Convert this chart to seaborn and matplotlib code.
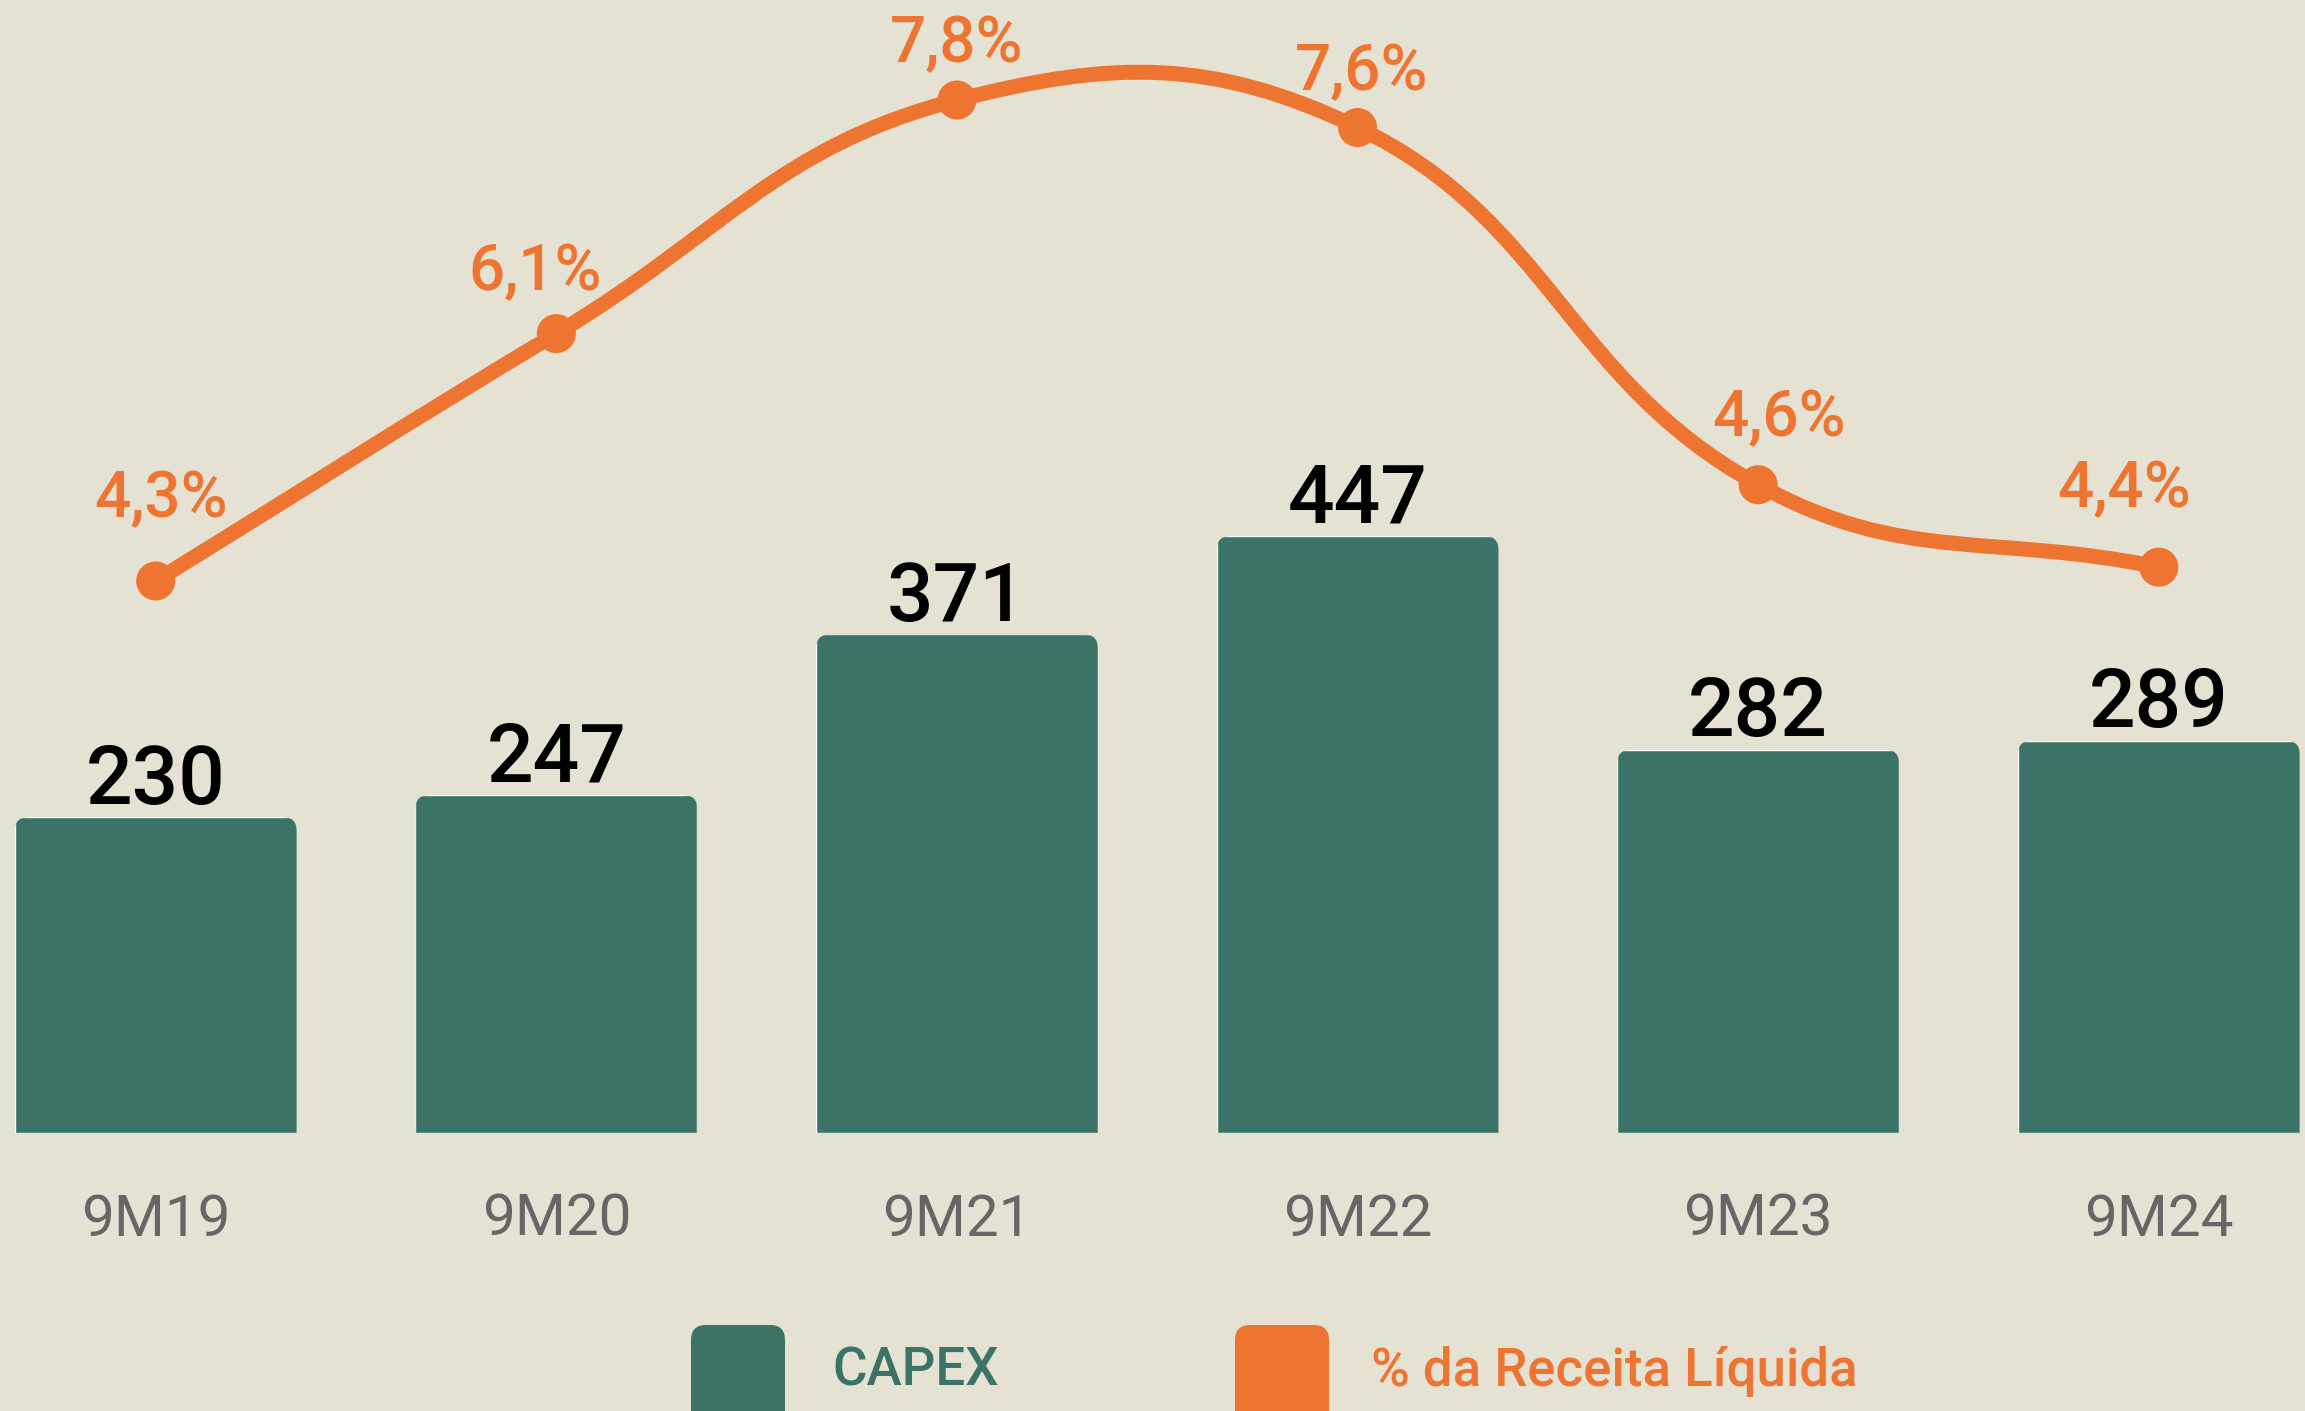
import numpy as np
import pandas as pd
import matplotlib
matplotlib.use("Agg")
import matplotlib.pyplot as plt
import seaborn as sns
from matplotlib.patches import FancyBboxPatch, PathPatch
from matplotlib.path import Path

# data
periods = ['9M19', '9M20', '9M21', '9M22', '9M23', '9M24']
capex = [230, 247, 371, 447, 282, 289]
pct = [4.3, 6.1, 7.8, 7.6, 5.0, 4.4]          # where the dots sit in the picture
pct_labels = ['4,3%', '6,1%', '7,8%', '7,6%', '4,6%', '4,4%']

# where each % label sits relative to its dot (points)
label_dx = [4, -15, 0, 3, 15, -25]
label_dy = [46, 31, 27, 27, 35, 43]

BG = '#E5E2D3'
GREEN = '#3B7366'
ORANGE = '#EE7531'
GREY = '#666666'

sns.set_theme(style='white')
plt.rcParams['font.family'] = ['Roboto', 'DejaVu Sans']

W, H = 2305, 1411
fig = plt.figure(figsize=(W / 100, H / 100), dpi=100, facecolor=BG)
ax = fig.add_axes([0, 278 / H, 1, 1133 / H])
ax.set_facecolor('none')

df = pd.DataFrame({'period': periods, 'capex': capex, 'pct': pct})

# ---- bars ----
sns.barplot(data=df, x='period', y='capex', color=GREEN, saturation=1,
            width=0.704, ax=ax)
ylo, yhi = -14, 861
ax.set_ylim(ylo, yhi)
ax.set_xlim(-0.3887, 5.365)

# bars start at the bottom of the axis, tops rounded
ax_h_px = 1133
ax_w_px = W
xlo, xhi = ax.get_xlim()
aspect = ((yhi - ylo) / ax_h_px) / ((xhi - xlo) / ax_w_px)
r = 14 * (xhi - xlo) / ax_w_px
for p in ax.patches:
    top = p.get_y() + p.get_height()
    p.set_y(ylo)
    p.set_height(top - ylo)
    clip = FancyBboxPatch((p.get_x(), ylo - 60), p.get_width(), top - ylo + 60,
                          boxstyle=f'round,pad=0,rounding_size={r}',
                          mutation_aspect=aspect, transform=ax.transData)
    p.set_clip_path(clip)

for i, v in enumerate(capex):
    ax.annotate(str(v), (i, v), xytext=(0, 9.6), textcoords='offset points',
                ha='center', va='baseline', fontsize=59, fontweight='medium',
                color='black')

ax.set_xticks(range(len(periods)), periods)
ax.tick_params(axis='x', length=0, pad=74, labelsize=42, labelcolor=GREY)
for t in ax.get_xticklabels():
    t.set_va('baseline')
    t.set_fontweight('normal')
ax.set_yticks([])
ax.set_xlabel('')
ax.set_ylabel('')
sns.despine(ax=ax, left=True, bottom=True)

# ---- % line ----
ax2 = ax.twinx()
ax2.set_ylim(0.282, 8.528)
ax2.set_xlim(xlo, xhi)

xs = np.arange(len(pct))
pts = ax2.transData.transform(np.column_stack([xs, pct]))
tension = 0.42
n = len(pts)
cps = []
for i in range(n):
    p0 = pts[max(i - 1, 0)]
    p1 = pts[i]
    p2 = pts[min(i + 1, n - 1)]
    d01 = np.hypot(*(p1 - p0))
    d12 = np.hypot(*(p2 - p1))
    s = d01 + d12
    cps.append((p1 - tension * d01 / s * (p2 - p0), p1 + tension * d12 / s * (p2 - p0)))
verts = [pts[0]]
codes = [Path.MOVETO]
for i in range(n - 1):
    verts += [cps[i][1], cps[i + 1][0], pts[i + 1]]
    codes += [Path.CURVE4] * 3
verts = ax2.transData.inverted().transform(np.array(verts))
ax2.add_patch(PathPatch(Path(verts, codes), fill=False, edgecolor=ORANGE,
                        lw=10.8, capstyle='round', joinstyle='round', zorder=2))

sns.scatterplot(data=df, x=xs, y='pct', ax=ax2, s=790, color=ORANGE,
                edgecolor='none', zorder=3, legend=False)

for i, (v, lbl) in enumerate(zip(pct, pct_labels)):
    ax2.annotate(lbl, (i, v), xytext=(label_dx[i], label_dy[i]),
                 textcoords='offset points', ha='center', va='baseline',
                 fontsize=46, fontweight='medium', color=ORANGE)

ax2.set_yticks([])
ax2.set_xlabel('')
ax2.set_ylabel('')
sns.despine(ax=ax2, left=True, bottom=True, right=True)

# ---- legend along the bottom edge ----
tr = fig.dpi_scale_trans
for x0, col in [(691, GREEN), (1235, ORANGE)]:
    fig.patches.append(FancyBboxPatch((x0 / 100, (H - 1325 - 130) / 100), 0.94, 1.30,
                                      boxstyle='round,pad=0,rounding_size=0.15',
                                      facecolor=col, edgecolor='none', transform=tr))
fig.text(832 / 100, 25 / 100, 'CAPEX', transform=tr, fontsize=38,
         fontweight='medium', color=GREEN, va='baseline')
fig.text(1371 / 100, 25 / 100, '% da Receita Líquida', transform=tr, fontsize=38,
         fontweight='medium', color=ORANGE, va='baseline')

fig.savefig('out.png', dpi=100, facecolor=BG)
